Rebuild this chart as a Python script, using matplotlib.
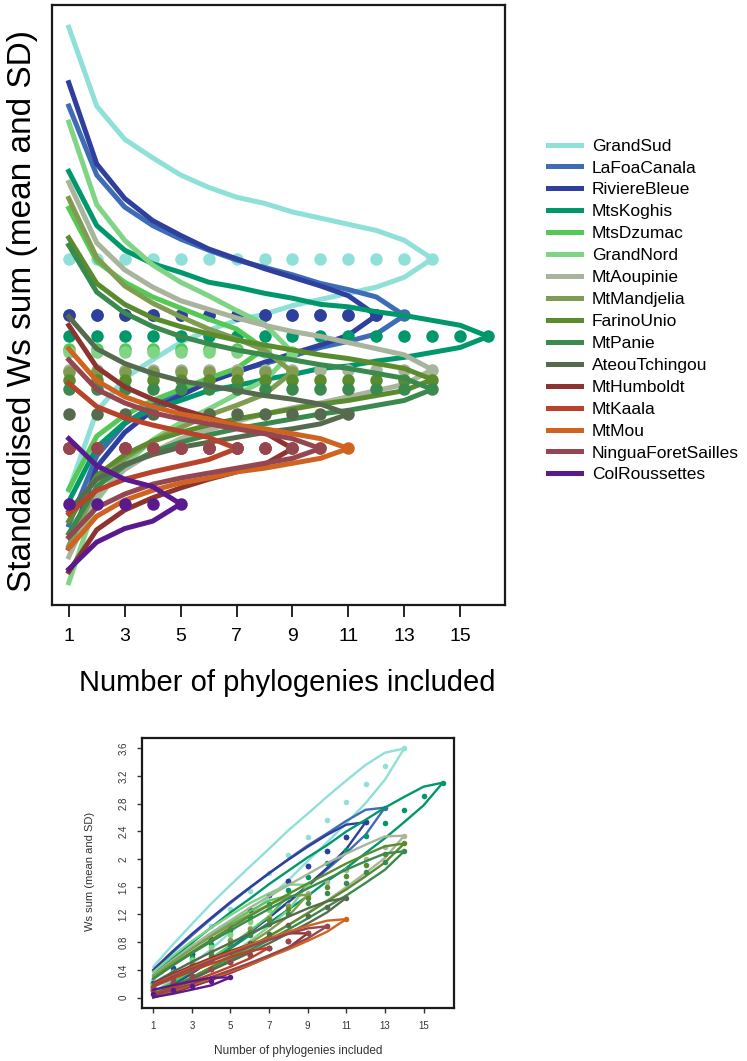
import numpy as np
import matplotlib
matplotlib.use('Agg')
import matplotlib.pyplot as plt
from matplotlib.lines import Line2D

plt.rcParams['font.family'] = ['Liberation Sans', 'DejaVu Sans']

# data
#
sites = ['GrandSud', 'LaFoaCanala', 'RiviereBleue', 'MtsKoghis', 'MtsDzumac',
         'GrandNord', 'MtAoupinie', 'MtMandjelia', 'FarinoUnio', 'MtPanie',
         'AteouTchingou', 'MtHumboldt', 'MtKaala', 'MtMou',
         'NinguaForetSailles', 'ColRoussettes']

colours = ['#8fe0d8', '#3f6db5', '#2e3f9e', '#00986a', '#55c855',
           '#7fd486', '#a8b49c', '#7f9c50', '#5a8c2e', '#3a8a4e',
           '#566b4e', '#8e3430', '#b8422a', '#cf6420', '#954650', '#5a1a8e']

# mean Ws per phylogeny (standardised mean, constant with n)
rate = [0.257, 0.211, 0.211, 0.194, 0.184,
        0.181, 0.167, 0.165, 0.159, 0.151,
        0.131, 0.103, 0.103, 0.103, 0.103, 0.058]

# standardised SD (SD / n) for n = 1 .. number of phylogenies of the site
sd_grandsud = [0.188, 0.124, 0.097, 0.082, 0.068, 0.058, 0.050, 0.045, 0.038, 0.033, 0.028, 0.023, 0.015, 0]
sd_lafoacanala = [0.170, 0.114, 0.088, 0.073, 0.062, 0.053, 0.045, 0.039, 0.033, 0.026, 0.021, 0.015, 0]
sd_rivierebleue = [0.189, 0.123, 0.095, 0.077, 0.065, 0.054, 0.046, 0.038, 0.031, 0.024, 0.016, 0]
sd_mtskoghis = [0.134, 0.090, 0.070, 0.059, 0.052, 0.044, 0.040, 0.035, 0.031, 0.026, 0.024, 0.020, 0.017, 0.013, 0.009, 0]
sd_mtsdzumac = [0.114, 0.071, 0.054, 0.042, 0.033, 0.024, 0.016, 0]
sd_grandnord = [0.187, 0.120, 0.091, 0.071, 0.057, 0.046, 0.034, 0.023, 0]
sd_mtaoupinie = [0.152, 0.103, 0.081, 0.067, 0.056, 0.049, 0.042, 0.036, 0.031, 0.027, 0.022, 0.017, 0.012, 0]
sd_mtmandjelia = [0.141, 0.093, 0.070, 0.056, 0.045, 0.035, 0.027, 0.018, 0]
sd_farinounio = [0.115, 0.078, 0.061, 0.050, 0.043, 0.037, 0.032, 0.028, 0.024, 0.020, 0.017, 0.013, 0.009, 0]
sd_mtpanie = [0.117, 0.079, 0.062, 0.051, 0.043, 0.037, 0.032, 0.028, 0.024, 0.020, 0.017, 0.013, 0.009, 0]
sd_ateoutchingou = [0.079, 0.053, 0.041, 0.033, 0.027, 0.023, 0.019, 0.015, 0.012, 0.008, 0]
sd_mthumboldt = [0.100, 0.066, 0.050, 0.040, 0.032, 0.025, 0.019, 0.013, 0]
sd_mtkaala = [0.053, 0.034, 0.025, 0.019, 0.014, 0.009, 0]
sd_mtmou = [0.081, 0.055, 0.042, 0.034, 0.028, 0.024, 0.019, 0.016, 0.012, 0.008, 0]
sd_ninguaforetsailles = [0.072, 0.048, 0.037, 0.029, 0.024, 0.020, 0.016, 0.012, 0.008, 0]
sd_colroussettes = [0.053, 0.031, 0.020, 0.014, 0]

sds = [sd_grandsud, sd_lafoacanala, sd_rivierebleue, sd_mtskoghis, sd_mtsdzumac,
       sd_grandnord, sd_mtaoupinie, sd_mtmandjelia, sd_farinounio, sd_mtpanie,
       sd_ateoutchingou, sd_mthumboldt, sd_mtkaala, sd_mtmou,
       sd_ninguaforetsailles, sd_colroussettes]

# plot
#
fig = plt.figure(figsize=(7.47, 10.61), dpi=100)
ax1 = fig.add_axes([0.0696, 0.4298, 0.6064, 0.5655])
ax2 = fig.add_axes([0.1897, 0.0500, 0.4186, 0.2540])

for name, col, r, s in zip(sites, colours, rate, sds):
    s = np.array(s)
    n = np.arange(1, len(s) + 1)
    m = np.full(len(s), r)

    # standardised
    ax1.plot(n, m, 'o', color=col, markersize=9, markeredgewidth=0)
    ax1.plot(n, m + s, color=col, linewidth=3.6, solid_joinstyle='miter')
    ax1.plot(n, m - s, color=col, linewidth=3.6, solid_joinstyle='miter')

    # raw sums
    ax2.plot(n, m * n, 'o', color=col, markersize=4, markeredgewidth=0)
    ax2.plot(n, (m + s) * n, color=col, linewidth=1.7)
    ax2.plot(n, (m - s) * n, color=col, linewidth=1.7)

# axes style
#
for ax in (ax1, ax2):
    ax.margins(x=0.04, y=0.04)
    for sp in ax.spines.values():
        sp.set_linewidth(1.6)
        sp.set_color('#1a1a1a')

ax1.set_xticks(range(1, 17, 2))
ax1.set_yticks([])
ax1.tick_params(axis='x', length=8.6, width=1.2, pad=8, labelsize=14)
ax1.set_xlabel('Number of phylogenies included', fontsize=21, va='center')
ax1.xaxis.set_label_coords(0.519, -0.130)
ax1.set_ylabel('Standardised Ws sum (mean and SD)', fontsize=24, va='center', ha='center')
ax1.yaxis.set_label_coords(-0.066, 0.49)

ax2.set_xticks(range(1, 17, 2))
ax2.set_yticks(np.arange(0, 3.7, 0.4))
ax2.set_yticklabels(['0', '0.4', '0.8', '1.2', '1.6', '2', '2.4', '2.8', '3.2', '3.6'],
                    rotation=90, va='center')
ax2.tick_params(length=3.6, width=1, pad=6, labelsize=7, colors='#333333')
ax2.set_xlabel('Number of phylogenies included', fontsize=8.5, va='center', color='#333333')
ax2.xaxis.set_label_coords(0.5, -0.16)
ax2.set_ylabel('Ws sum (mean and SD)', fontsize=8, va='center', ha='center', color='#333333')
ax2.yaxis.set_label_coords(-0.165, 0.505)

# legend
#
handles = [Line2D([], [], color=c, linewidth=3.6, marker='o', markersize=2.5) for c in colours]
ax1.legend(handles, sites, loc='upper left', bbox_to_anchor=(0.733, 0.8695),
           bbox_transform=fig.transFigure, frameon=False, fontsize=12.5,
           handlelength=1.9, handletextpad=0.65, labelspacing=0.39, borderpad=0,
           borderaxespad=0)

# output
#
plt.savefig('out.png', dpi=100)
